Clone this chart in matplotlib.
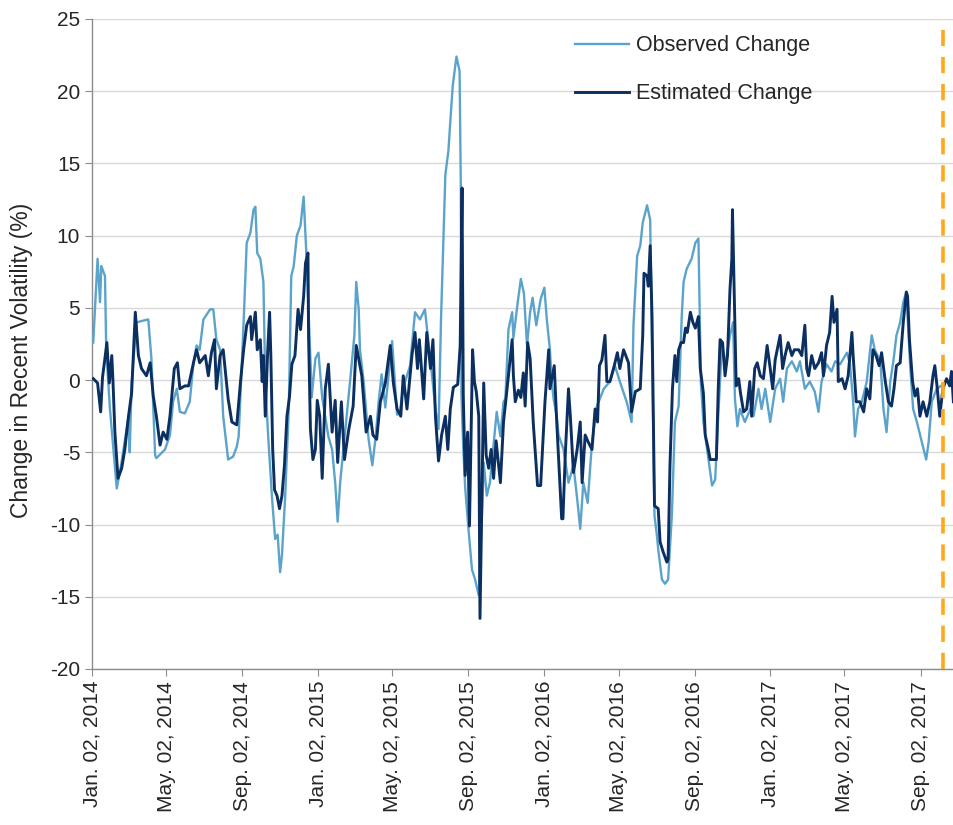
import pandas as pd
import matplotlib
matplotlib.use("Agg")
import matplotlib.pyplot as plt
import matplotlib.dates as mdates

plt.rcParams["font.family"] = ["Liberation Sans", "DejaVu Sans"]
plt.rcParams["axes.unicode_minus"] = False

START = "2014-01-02"
X_END = "2017-10-26"
CUTOFF = "2017-10-08"

# jours depuis le 02/01/2014 et valeurs
obs_days = [2, 9, 13, 15, 21, 23, 29, 40, 47, 59, 61, 64, 72, 81, 91, 96, 102, 104, 118, 126,
            131, 137, 142, 150, 158, 164, 169, 174, 180, 191, 196, 201, 207, 212, 220, 228, 234, 237, 245, 250,
            256, 261, 264, 267, 272, 277, 280, 285, 291, 296, 300, 304, 307, 312, 318, 322, 326, 331, 337, 342,
            346, 354, 355, 361, 366, 372, 382, 388, 393, 397, 401, 409, 417, 424, 427, 431, 433, 439, 447, 453,
            458, 463, 468, 474, 485, 493, 498, 503, 514, 522, 530, 538, 549, 555, 560, 564, 571, 576, 579, 583,
            589, 594, 596, 597, 600, 603, 608, 614, 619, 625, 630, 633, 638, 643, 649, 654, 660, 665, 668, 673,
            679, 681, 688, 693, 698, 703, 708, 712, 718, 725, 731, 735, 740, 743, 746, 751, 754, 762, 770, 778,
            784, 789, 794, 801, 808, 816, 827, 837, 845, 853, 864, 872, 875, 881, 886, 890, 897, 902, 905, 909,
            913, 915, 921, 926, 931, 937, 942, 948, 953, 956, 961, 969, 975, 980, 984, 988, 994, 1002, 1007, 1012,
            1018, 1023, 1031, 1036, 1039, 1043, 1047, 1055, 1064, 1069, 1077, 1082, 1088, 1096, 1104, 1112, 1117, 1123, 1131, 1139,
            1144, 1152, 1160, 1168, 1174, 1179, 1187, 1195, 1201, 1209, 1220, 1225, 1230, 1233, 1238, 1244, 1252, 1260, 1265, 1274,
            1279, 1284, 1290, 1295, 1300, 1306, 1311, 1316, 1322, 1327, 1333, 1341, 1348, 1352, 1357, 1365, 1372]
obs_vals = [2.6, 8.4, 5.4, 7.9, 7.2, 2.1, -2.0, -7.5, -5.9, -2.5, -5.0, -0.2, 4.0, 4.1, 4.2, 1.5, -5.2, -5.4, -4.8, -3.8,
            -1.5, -0.6, -2.2, -2.3, -1.5, 1.2, 2.4, 2.1, 4.2, 4.9, 4.9, 2.8, 2.1, -2.5, -5.5, -5.3, -4.6, -3.9, 4.0, 9.5,
            10.2, 11.8, 12.0, 8.8, 8.4, 6.8, -0.1, -4.1, -8.2, -11.0, -10.7, -13.3, -12.1, -8.2, -2.0, 7.2, 7.9, 10.0, 10.7, 12.7,
            9.1, 0.3, -1.2, 1.5, 1.9, -1.2, -3.9, -4.8, -7.1, -9.8, -7.1, -3.6, -0.1, 3.1, 6.8, 4.9, 2.1, -0.1, -4.1, -5.9,
            -4.1, -1.6, 0.4, -1.9, 2.7, -2.4, -2.0, -0.5, 1.0, 4.7, 4.2, 4.9, 0.5, -2.0, -3.4, 4.2, 14.2, 15.9, 17.9, 20.4,
            22.4, 21.4, 13.4, -1.0, -4.7, -7.4, -10.1, -13.1, -13.8, -14.9, -9.5, -5.7, -8.0, -7.1, -4.4, -2.2, -3.9, -1.5, -1.3, 3.5,
            4.7, 2.9, 5.4, 7.0, 6.0, 2.4, 4.7, 5.7, 3.8, 5.6, 6.4, 4.2, 2.1, -0.2, -1.3, -2.5, -3.8, -4.8, -7.1, -5.9,
            -8.2, -10.3, -7.1, -8.5, -4.3, -1.8, -0.6, -0.1, 1.0, -0.1, -1.5, -2.9, 3.8, 8.6, 9.3, 10.9, 12.1, 11.1, 2.1, -9.4,
            -10.8, -11.7, -13.8, -14.1, -13.8, -9.4, -2.9, -1.8, 4.4, 6.8, 7.7, 8.4, 9.5, 9.8, -0.2, -2.9, -4.8, -7.3, -6.9, -2.5,
            2.6, 1.0, 3.1, 4.0, -1.3, -3.2, -2.0, -2.9, -2.0, -2.5, -0.6, -2.0, -0.6, -2.9, -0.6, 0.1, -1.5, 0.8, 1.3, 0.6,
            1.3, -0.6, -0.1, -0.8, -2.2, -0.1, 1.1, 0.6, 1.3, 1.1, 1.9, 1.1, -1.5, -3.9, -2.0, -1.5, -0.1, 3.1, 2.1, 1.3,
            -2.0, -3.6, -0.1, 1.3, 3.1, 4.0, 5.4, 6.1, 1.1, -2.0, -2.9, -4.3, -5.5, -4.3, -1.5, -0.6, -0.4]

est_days = [2, 9, 14, 17, 20, 24, 28, 32, 34, 37, 42, 48, 53, 59, 64, 70, 75, 80, 88, 94,
            99, 104, 110, 115, 121, 126, 133, 138, 142, 150, 156, 164, 169, 174, 183, 188, 193, 198, 201, 207,
            212, 220, 226, 234, 240, 245, 250, 256, 258, 264, 267, 272, 275, 277, 280, 284, 287, 289, 292, 295,
            299, 303, 307, 311, 315, 319, 323, 328, 333, 337, 342, 345, 349, 350, 353, 357, 361, 364, 368, 372,
            377, 382, 388, 393, 397, 403, 408, 415, 422, 427, 436, 443, 450, 454, 460, 466, 474, 482, 487, 493,
            499, 503, 509, 517, 522, 526, 529, 536, 541, 547, 551, 555, 560, 565, 571, 575, 579, 584, 591, 595,
            598, 600, 603, 607, 610, 615, 618, 621, 625, 627, 633, 637, 641, 645, 649, 653, 660, 665, 670, 679,
            681, 684, 689, 693, 697, 700, 704, 708, 713, 720, 725, 732, 738, 740, 747, 751, 756, 759, 761, 765,
            770, 773, 778, 784, 789, 792, 797, 802, 808, 813, 817, 820, 824, 829, 832, 837, 844, 849, 853, 859,
            867, 872, 878, 886, 890, 892, 897, 899, 902, 905, 909, 915, 918, 923, 929, 931, 934, 938, 942, 945,
            948, 952, 956, 959, 962, 967, 971, 975, 980, 983, 988, 991, 996, 999, 1009, 1012, 1015, 1019, 1023, 1027,
            1031, 1034, 1035, 1041, 1045, 1048, 1053, 1058, 1063, 1066, 1071, 1075, 1080, 1085, 1091, 1096, 1100, 1104, 1112, 1116,
            1120, 1125, 1131, 1135, 1142, 1147, 1152, 1155, 1158, 1163, 1168, 1174, 1179, 1182, 1187, 1192, 1196, 1199, 1204, 1206,
            1212, 1217, 1222, 1228, 1230, 1235, 1241, 1247, 1252, 1257, 1262, 1267, 1272, 1276, 1282, 1287, 1292, 1296, 1300, 1306,
            1311, 1316, 1318, 1321, 1326, 1330, 1334, 1338, 1343, 1349, 1354, 1359, 1362, 1366, 1370, 1375, 1381, 1386, 1389, 1392]
est_vals = [0.1, -0.2, -2.2, 0.2, 1.2, 2.6, -0.2, 1.7, -0.2, -3.6, -6.8, -6.1, -4.8, -2.5, -0.9, 4.7, 1.7, 0.8, 0.3, 1.2,
            -1.1, -2.5, -4.5, -3.6, -4.1, -2.5, 0.8, 1.2, -0.6, -0.4, -0.4, 1.2, 2.1, 1.2, 1.7, 0.3, 1.9, 2.8, -0.6, 1.7,
            2.1, -1.3, -2.9, -3.1, -0.1, 2.1, 3.8, 4.4, 2.8, 4.7, 2.1, 2.8, -0.1, 1.7, -2.5, 2.1, 4.7, 1.7, -4.8, -7.6,
            -8.0, -8.9, -8.0, -5.9, -2.5, -1.2, 1.1, 1.7, 4.9, 3.5, 5.8, 8.1, 8.8, 3.0, -3.4, -5.5, -4.8, -1.4, -2.5, -6.8,
            -0.6, 1.1, -3.6, -1.4, -5.7, -1.5, -5.5, -3.4, -1.8, 2.4, 0.3, -3.6, -2.5, -3.8, -4.1, -1.5, -0.2, 2.4, -0.2, -2.0,
            -2.5, 0.3, -2.0, 1.7, 3.3, 0.8, 2.8, -1.3, 3.3, 0.8, 2.8, -2.5, -5.6, -3.8, -2.5, -4.8, -2.0, -0.5, -0.3, 2.4,
            13.3, -1.1, -6.6, -3.6, -10.1, 2.1, -0.1, -0.8, -2.5, -16.5, -0.2, -5.2, -6.1, -4.8, -6.8, -4.2, -7.1, -2.9, -0.9, 2.8,
            0.3, -1.5, -0.7, -1.2, 0.5, -1.8, 2.6, 1.5, -2.9, -7.3, -7.3, -1.5, 2.1, -0.6, 1.0, -2.9, -7.1, -9.6, -9.6, -5.0,
            -0.6, -2.5, -6.4, -4.8, -2.9, -7.1, -3.8, -4.3, -4.8, -2.0, -2.9, 1.0, 1.4, 3.1, -0.1, -0.1, 1.0, 1.9, 0.8, 2.1,
            1.2, -2.2, -0.8, -0.6, 3.1, 7.4, 7.2, 6.5, 9.3, 4.4, -8.7, -8.9, -11.2, -11.9, -12.6, -12.4, -5.9, -0.6, 1.7, -0.1,
            2.1, 2.6, 2.6, 3.6, 3.3, 4.7, 4.0, 3.6, 4.4, 0.8, -0.9, -3.8, -4.8, -5.5, -5.5, -0.6, 2.8, 2.6, 0.3, 1.7,
            6.3, 8.4, 11.8, -0.4, 0.1, -0.9, -2.2, -2.0, -0.1, -2.5, 0.8, 1.2, 0.3, 0.1, 2.4, 0.8, -0.6, 1.4, 3.1, 0.8,
            1.7, 2.6, 1.7, 2.1, 2.1, 1.7, 3.8, 0.8, 0.3, 1.7, 0.8, 1.2, 1.9, 0.3, 2.4, 3.3, 5.8, 4.0, 4.9, -0.1,
            0.1, -0.6, 0.3, 3.3, 1.7, -1.5, -1.5, -2.2, -0.6, -1.3, 2.1, 1.7, 1.0, 1.9, -0.1, -1.5, -1.8, -0.6, 1.0, 1.2,
            4.0, 6.1, 5.8, 2.8, -0.1, -1.1, -0.6, -2.5, -1.5, -2.5, -1.5, 0.3, 1.0, -0.6, -2.5, -0.6, 0.1, -0.4, 0.6, -1.5]

tick_dates = ["2014-01-02", "2014-05-02", "2014-09-02", "2015-01-02", "2015-05-02", "2015-09-02",
              "2016-01-02", "2016-05-02", "2016-09-02", "2017-01-02", "2017-05-02", "2017-09-02"]
y_ticks = [-20, -15, -10, -5, 0, 5, 10, 15, 20, 25]

start = pd.Timestamp(START)
obs_x = start + pd.to_timedelta(obs_days, unit="D")
est_x = start + pd.to_timedelta(est_days, unit="D")

fig = plt.figure(figsize=(9.54, 8.25), dpi=100)
ax = fig.add_axes([92 / 954, 1 - 669 / 825, (954 - 92) / 954, 650 / 825])

ax.plot(obs_x, obs_vals, color="#5BA3CB", linewidth=1.7, label="Observed Change", zorder=3)
ax.plot(est_x, est_vals, color="#0B2F60", linewidth=2.1, label="Estimated Change", zorder=4)
ax.axvline(pd.Timestamp(CUTOFF), color="#FFA81C", linewidth=2.6, linestyle=(0, (4.5, 3)), zorder=5)

ax.set_xlim(start, pd.Timestamp(X_END))
ax.set_ylim(-20, 25)
ax.set_yticks(y_ticks)
ax.set_xticks(pd.to_datetime(tick_dates))
ax.xaxis.set_major_formatter(mdates.DateFormatter("%b. %d, %Y"))
ax.grid(axis="y", color="#D9D9D9", linewidth=1.0)
ax.set_axisbelow(True)

for s in ["top", "right"]:
    ax.spines[s].set_visible(False)
for s in ["left", "bottom"]:
    ax.spines[s].set_color("#8C8C8C")
    ax.spines[s].set_linewidth(1.0)

ax.tick_params(axis="both", direction="out", length=5, color="#8C8C8C",
               labelsize=15, labelcolor="#262626")
plt.setp(ax.get_xticklabels(), rotation=90)
ax.set_ylabel("Change in Recent Volatility (%)", fontsize=16.5, color="#262626")
ax.yaxis.set_label_coords(-0.068, 0.475)

ax.legend(loc="upper left", bbox_to_anchor=(0.538, 1.005), frameon=False, fontsize=15.5,
          handlelength=2.5, handletextpad=0.35, labelspacing=1.25, labelcolor="#262626")

fig.savefig("out.png", dpi=100)
